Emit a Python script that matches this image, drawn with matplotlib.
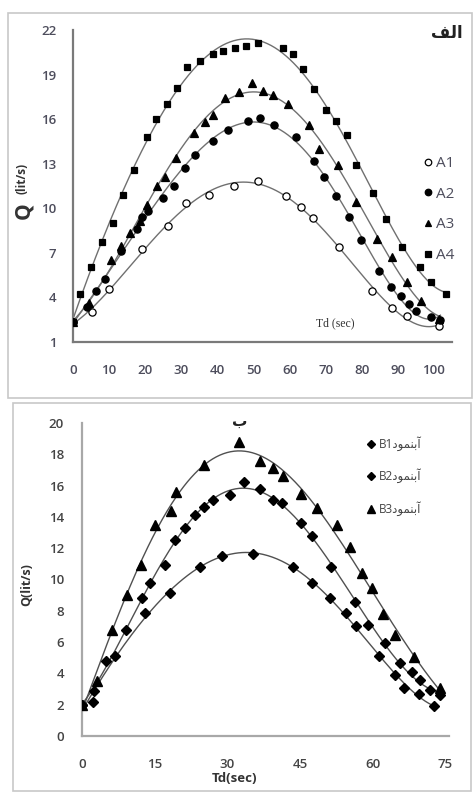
import numpy as np
import matplotlib
matplotlib.use("Agg")
import matplotlib.pyplot as plt
from matplotlib.patches import Rectangle

# ---------------- panel "الف": hydrographs A1-A4 ----------------
a1_t = [0, 5.2, 10.0, 19.2, 26.3, 31.4, 37.8, 44.6, 51.2, 59.0, 63.2, 66.4, 73.8, 82.8, 88.5, 92.6, 101.4]
a1_q = [2.33, 3.0, 4.57, 7.26, 8.79, 10.35, 10.9, 11.5, 11.85, 10.85, 10.1, 9.32, 7.37, 4.45, 3.27, 2.77, 2.1]

a2_t = [0, 3.8, 6.5, 8.8, 13.4, 17.6, 19.0, 20.8, 24.9, 27.9, 30.9, 33.7, 38.8, 42.9, 48.6, 51.8,
        55.8, 61.8, 66.9, 69.6, 72.8, 76.5, 79.7, 84.8, 88.0, 90.8, 93.1, 94.9, 99.1, 101.8]
a2_q = [2.33, 3.38, 4.45, 5.24, 7.14, 8.6, 9.39, 9.84, 10.7, 11.5, 12.7, 13.6, 14.5, 15.3, 15.9, 16.1,
        15.6, 14.8, 13.2, 12.1, 10.8, 9.39, 7.86, 5.80, 4.72, 4.12, 3.56, 3.07, 2.66, 2.48]

a3_t = [0, 4.5, 10.5, 13.4, 15.9, 18.5, 20.5, 23.3, 25.4, 28.5, 33.4, 36.5, 38.8, 42.0, 46.1, 49.6,
        52.6, 55.3, 59.5, 65.5, 68.2, 73.3, 78.4, 84.3, 88.5, 92.6, 96.3, 101.4]
a3_q = [2.33, 3.6, 6.5, 7.48, 8.31, 9.16, 10.2, 11.5, 12.1, 13.4, 15.1, 15.8, 16.3, 17.4, 17.8, 18.4,
        17.9, 17.6, 17.0, 15.6, 14.0, 12.9, 10.4, 7.93, 6.70, 5.02, 3.78, 2.55]

a4_t = [0, 1.9, 4.9, 7.9, 11.0, 13.9, 16.9, 20.5, 22.9, 26.1, 28.8, 31.6, 35.1, 38.8, 41.5, 44.9,
        48.0, 51.2, 58.1, 60.9, 63.6, 66.9, 70.1, 73.0, 75.8, 78.5, 83.0, 86.6, 91.2, 96.1, 99.1, 103.2]
a4_q = [2.33, 4.23, 6.03, 7.71, 8.99, 10.9, 12.6, 14.8, 16.0, 17.0, 18.1, 19.5, 19.9, 20.4, 20.6, 20.8,
        20.9, 21.1, 20.8, 20.4, 19.4, 18.0, 16.6, 15.9, 14.9, 12.9, 11.0, 9.28, 7.41, 6.03, 5.02, 4.23]

a_labels = ["A1", "A2", "A3", "A4"]
a_xticks = list(range(0, 101, 10))
a_yticks = [1, 4, 7, 10, 13, 16, 19, 22]

# ---------------- panel "ب": hydrographs B1-B3 ----------------
b1_t = [0, 2.2, 6.9, 13.1, 18.1, 24.3, 28.9, 35.3, 43.5, 47.5, 51.2, 54.6, 56.6, 61.4, 64.7, 66.5, 69.6, 72.6]
b1_q = [1.98, 2.2, 5.1, 7.84, 9.16, 10.8, 11.5, 11.6, 10.8, 9.75, 8.8, 7.84, 7.05, 5.13, 3.9, 3.09, 2.7, 1.94]

b2_t = [0, 2.5, 4.9, 9.1, 12.3, 14.0, 17.1, 19.2, 21.2, 23.3, 25.2, 27.0, 30.5, 33.4, 36.7, 39.5,
        41.3, 45.3, 47.5, 51.4, 56.4, 59.1, 62.5, 65.7, 68.1, 69.8, 71.9, 74.0]
b2_q = [1.98, 2.9, 4.8, 6.8, 8.84, 9.75, 10.9, 12.5, 13.3, 14.1, 14.65, 15.1, 15.4, 16.2, 15.8, 15.1,
        14.9, 13.6, 12.8, 10.8, 8.58, 7.09, 5.92, 4.65, 4.11, 3.58, 2.94, 2.62]

b3_t = [0, 3.0, 6.1, 9.3, 12.2, 15.0, 18.3, 19.5, 25.2, 32.4, 36.7, 39.5, 41.5, 45.3, 48.5,
        52.6, 55.4, 57.8, 59.8, 62.1, 64.7, 68.6, 74.0]
b3_q = [1.98, 3.5, 6.77, 9.0, 10.9, 13.5, 14.4, 15.6, 17.3, 18.8, 17.6, 17.1, 16.6, 15.45, 14.55,
        13.5, 12.1, 10.4, 9.43, 7.77, 6.45, 5.07, 3.05]

# "آبنمود" written in presentation forms so it shows joined, right-to-left
abnamood = "\uFEA9\uFEEE\uFEE4\uFEE8\uFE91\uFE81"
b_labels = ["B1" + abnamood, "B2" + abnamood, "B3" + abnamood]
b_xticks = list(range(0, 76, 15))
b_yticks = list(range(0, 21, 2))

title_a = "\uFED2\uFEDF\uFE8D"   # الف
title_b = "\u0628"               # ب

W, H = 474, 792
fig = plt.figure(figsize=(W / 100, H / 100), dpi=100)


def fx(px):
    return px / W


def fy(py):
    return 1 - py / H


# panel frames
fig.add_artist(Rectangle((fx(8), fy(398)), fx(464), 385 / H, transform=fig.transFigure,
                         fill=False, ec="#c8c8c8", lw=1.2))
fig.add_artist(Rectangle((fx(13), fy(791)), fx(458), 388 / H, transform=fig.transFigure,
                         fill=False, ec="#c8c8c8", lw=1.2))

tick_family = ["Open Sans", "DejaVu Sans"]


def trend(ax, t, q, deg, color, lw):
    t = np.asarray(t, float)
    q = np.asarray(q, float)
    coef = np.polyfit(t, q, deg)
    tt = np.linspace(t.min(), t.max(), 300)
    ax.plot(tt, np.polyval(coef, tt), color=color, lw=lw, zorder=2)


# ---------- top panel ----------
axA = fig.add_axes([fx(73), fy(342), fx(452) - fx(73), fy(30) - fy(342)])
axA.set_xlim(0, 105)
axA.set_ylim(1, 22)
axA.set_xticks(a_xticks)
axA.set_yticks(a_yticks)
for s in ("top", "right"):
    axA.spines[s].set_visible(False)
for s in ("left", "bottom"):
    axA.spines[s].set_color("#7a7a7a")
    axA.spines[s].set_linewidth(1.6)
axA.tick_params(axis="both", length=0, colors="#4d4d5c")
axA.tick_params(axis="y", pad=12)
axA.tick_params(axis="x", pad=16)
for lab in axA.get_xticklabels() + axA.get_yticklabels():
    lab.set_fontfamily(tick_family)
    lab.set_fontsize(9.5)
    lab.set_fontweight("semibold")

a_series = [(a1_t, a1_q, "o", "white", 5.2),
            (a2_t, a2_q, "o", "black", 5.2),
            (a3_t, a3_q, "^", "black", 5.2),
            (a4_t, a4_q, "s", "black", 4.8)]
for (t, q, m, fc, ms), lab in zip(a_series, a_labels):
    trend(axA, t, q, 5, "#707070", 1.0)
    axA.plot(t, q, ls="none", marker=m, mfc=fc, mec="black", mew=0.9, ms=ms, label=lab, zorder=3)

legA = axA.legend(loc="upper left", bbox_to_anchor=(fx(424), fy(156)), bbox_transform=fig.transFigure,
                  frameon=False, borderpad=0, borderaxespad=0, handlelength=0.5, handletextpad=0.3,
                  labelspacing=1.03, markerscale=0.9,
                  prop=dict(family=["Open Sans", "DejaVu Sans"], size=11))
for txt in legA.get_texts():
    txt.set_color("#4d4d5c")

fig.text(fx(447), fy(33), title_a, ha="center", va="center", fontsize=12, fontweight="bold",
         family="DejaVu Sans", color="#222222")
fig.text(fx(335), fy(323), "Td (sec)", ha="center", va="center", fontsize=8.5,
         family="Liberation Serif", color="#333333")
fig.text(fx(24), fy(211), "Q", ha="center", va="center", rotation=90, fontsize=15,
         fontweight="bold", family="Open Sans", color="#333333")
fig.text(fx(22), fy(178), "(lit/s)", ha="center", va="center", rotation=90, fontsize=8.5,
         fontweight="bold", family="Open Sans", color="#333333")

# ---------- bottom panel ----------
axB = fig.add_axes([fx(82), fy(736), fx(449) - fx(82), fy(423) - fy(736)])
axB.set_xlim(0, 75.8)
axB.set_ylim(0, 20)
axB.set_xticks(b_xticks)
axB.set_yticks(b_yticks)
for s in ("top", "right"):
    axB.spines[s].set_visible(False)
for s in ("left", "bottom"):
    axB.spines[s].set_color("#a8a8a8")
    axB.spines[s].set_linewidth(1.6)
axB.tick_params(axis="both", length=0, colors="#444444")
axB.tick_params(axis="y", pad=13)
axB.tick_params(axis="x", pad=16)
for lab in axB.get_xticklabels() + axB.get_yticklabels():
    lab.set_fontfamily(tick_family)
    lab.set_fontsize(9.5)
    lab.set_fontweight("semibold")

b_series = [(b1_t, b1_q, "D", 4.8),
            (b2_t, b2_q, "D", 4.8),
            (b3_t, b3_q, "^", 6.5)]
for (t, q, m, ms), lab in zip(b_series, b_labels):
    trend(axB, t, q, 5, "#505050", 1.0)
    axB.plot(t, q, ls="none", marker=m, mfc="black", mec="black", ms=ms, label=lab, zorder=3)

legB = axB.legend(loc="upper left", bbox_to_anchor=(fx(367), fy(436)), bbox_transform=fig.transFigure,
                  frameon=False, borderpad=0, borderaxespad=0, handlelength=0.6, handletextpad=0.4,
                  labelspacing=1.5, markerscale=0.9,
                  prop=dict(family=["Open Sans", "DejaVu Sans"], size=8.5))
for txt in legB.get_texts():
    txt.set_color("#444444")

fig.text(fx(240), fy(421), title_b, ha="center", va="center", fontsize=11, fontweight="bold",
         family="DejaVu Sans", color="#222222")
fig.text(fx(234), fy(779), "Td(sec)", ha="center", va="center", fontsize=9.5, fontweight="bold",
         family="Open Sans", color="#333333")
fig.text(fx(27), fy(585), "Q(lit/s)", ha="center", va="center", rotation=90, fontsize=9,
         fontweight="bold", family="Open Sans", color="#333333")

fig.savefig("out.png", dpi=100, facecolor="white")
